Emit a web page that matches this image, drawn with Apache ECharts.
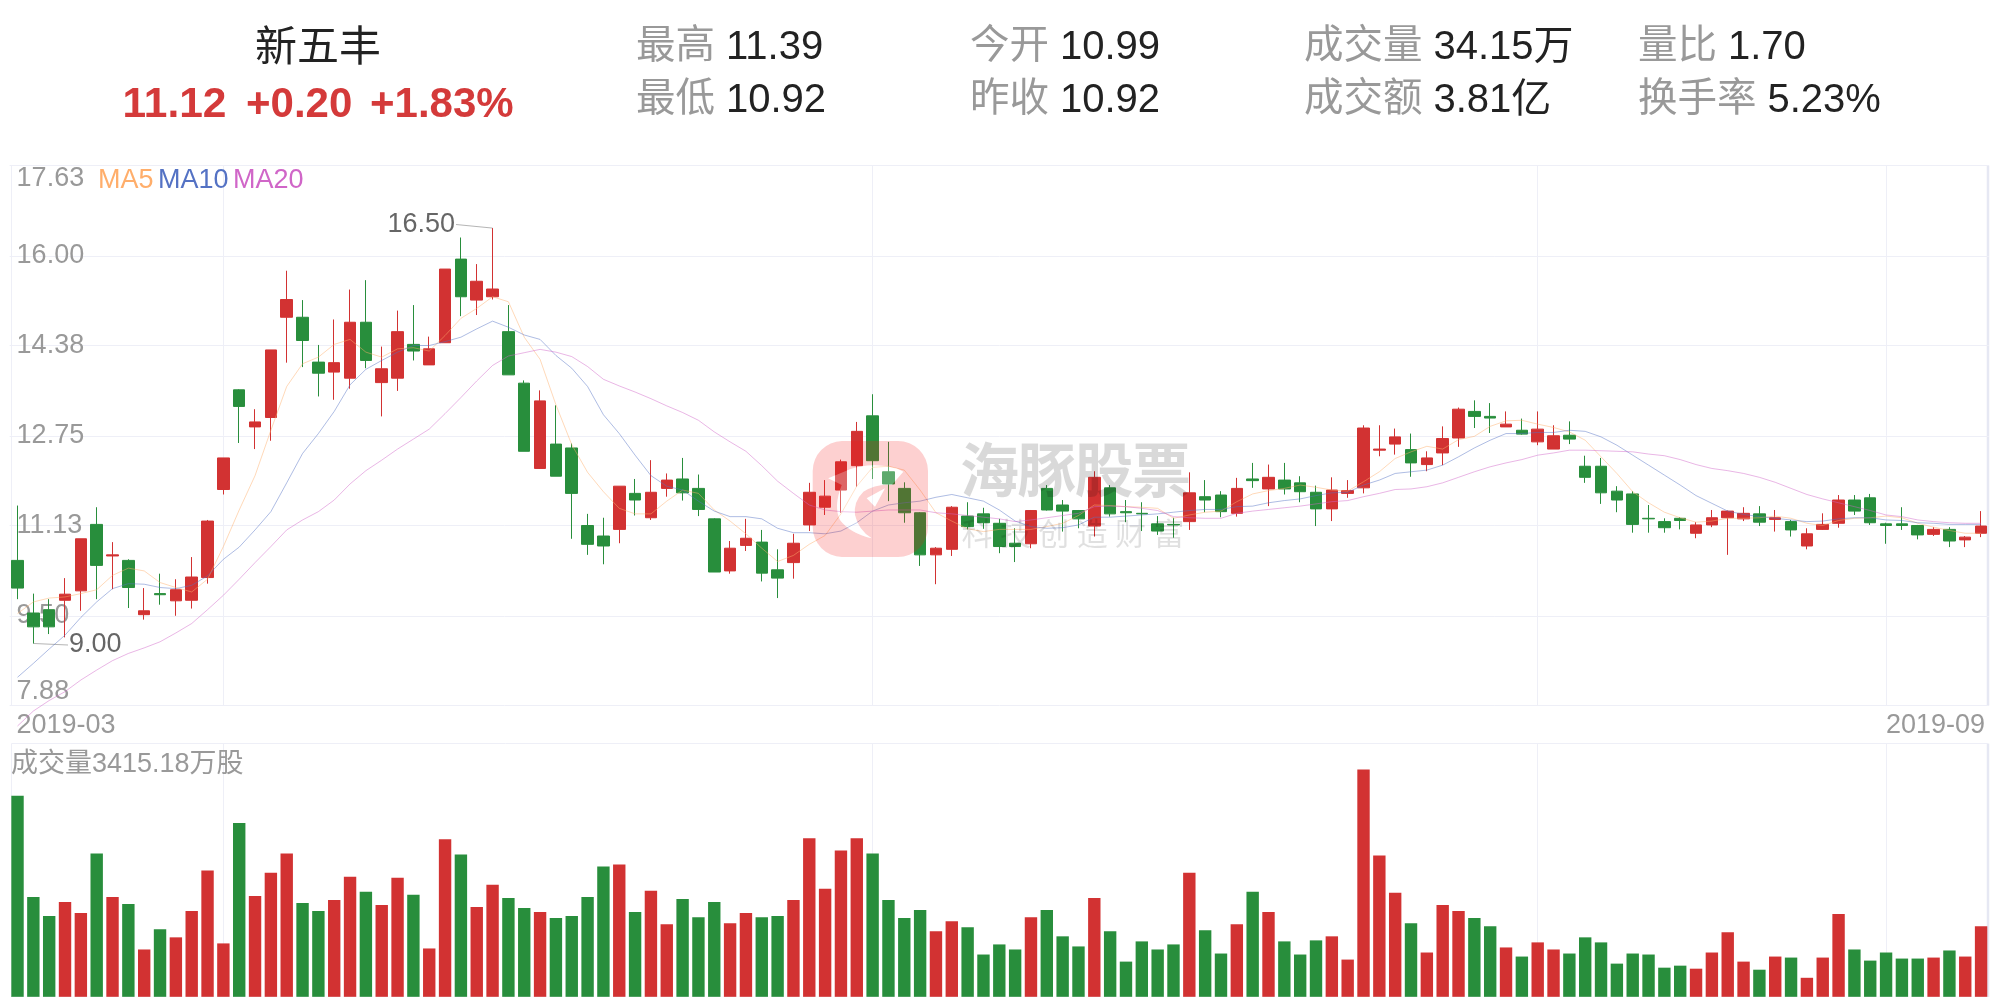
<!DOCTYPE html>
<html><head><meta charset="utf-8">
<style>html,body{margin:0;padding:0;background:#fff}#c{width:2001px;height:999px}</style>
<script src="https://cdn.jsdelivr.net/npm/echarts@6/dist/echarts.min.js"></script>
</head><body><div id="c"></div>
<script>
// [open, close, low, high]
const candles = [
[10.50,10.00,9.80,11.49],[9.55,9.30,9.00,9.90],[9.61,9.30,9.17,9.80],[9.78,9.89,9.11,10.18],[9.95,10.89,9.59,10.89],
[11.15,10.41,9.80,11.46],[10.58,10.60,9.98,10.83],[10.50,10.01,9.64,10.52],[9.52,9.59,9.43,10.00],[9.90,9.88,9.70,10.26],
[9.77,9.97,9.50,10.16],[9.78,10.20,9.63,10.56],[10.19,11.21,10.08,11.23],[11.78,12.35,11.69,12.35],[13.58,13.28,12.62,13.59],
[12.91,13.00,12.51,13.23],[13.08,14.30,12.66,14.30],[14.89,15.21,14.07,15.73],[14.89,14.47,13.99,15.20],[14.08,13.88,13.46,14.39],
[13.90,14.07,13.40,14.85],[13.79,14.80,13.60,15.39],[14.80,14.11,13.97,15.56],[13.71,13.96,13.10,14.36],[13.79,14.63,13.56,15.01],
[14.40,14.28,14.11,15.11],[14.03,14.32,14.03,14.54],[14.43,15.76,14.43,15.76],[15.94,15.26,14.91,16.33],[15.20,15.54,14.93,15.85],
[15.26,15.40,15.21,16.50],[14.63,13.85,13.85,15.11],[13.70,12.47,12.47,13.75],[12.16,13.38,12.15,13.57],[12.60,12.02,12.02,13.30],
[12.53,11.71,10.89,12.61],[11.13,10.79,10.60,11.34],[10.94,10.76,10.43,11.27],[11.06,11.84,10.81,11.84],[11.71,11.59,11.31,11.97],
[11.27,11.73,11.23,12.31],[11.80,11.95,11.65,12.07],[11.97,11.72,11.58,12.35],[11.80,11.42,11.30,12.05],[11.25,10.29,10.29,11.26],
[10.31,10.72,10.26,10.85],[10.77,10.90,10.67,11.25],[10.83,10.27,10.12,11.05],[10.33,10.18,9.82,10.70],[10.46,10.81,10.17,10.98],
[11.14,11.73,11.03,11.90],[11.46,11.66,11.32,11.95],[11.77,12.28,11.36,12.32],[12.21,12.83,11.83,13.00],[13.11,12.30,11.97,13.50],
[12.10,11.88,11.57,12.64],[11.80,11.36,11.18,11.91],[11.36,10.60,10.40,11.37],[10.60,10.72,10.07,10.74],[10.70,11.46,10.58,11.48],
[11.30,11.11,11.06,11.55],[11.34,11.18,11.07,11.45],[11.17,10.75,10.63,11.25],[10.81,10.75,10.47,11.08],[10.80,11.40,10.72,11.41],
[11.80,11.41,11.40,11.86],[11.50,11.39,11.02,11.59],[11.40,11.25,11.08,11.41],[11.12,12.00,10.93,12.11],[11.81,11.34,11.29,11.86],
[11.38,11.36,11.19,11.59],[11.35,11.34,11.03,11.55],[11.16,11.03,10.96,11.30],[11.15,11.14,10.91,11.27],[11.20,11.72,11.05,12.09],
[11.65,11.59,11.37,11.95],[11.68,11.38,11.28,11.75],[11.35,11.80,11.29,11.99],[11.97,11.94,11.81,12.26],[11.79,12.00,11.48,12.23],
[11.95,11.79,11.69,12.26],[11.90,11.74,11.55,12.02],[11.73,11.43,11.12,11.85],[11.43,11.77,11.21,12.00],[11.71,11.76,11.63,11.95],
[11.81,12.89,11.71,12.94],[12.49,12.51,12.38,12.94],[12.60,12.73,12.41,12.88],[12.50,12.26,12.01,12.79],[12.23,12.35,12.11,12.47],
[12.44,12.70,12.22,12.92],[12.71,13.23,12.55,13.26],[13.19,13.10,12.89,13.39],[13.10,13.07,12.80,13.34],[12.91,12.96,12.91,13.19],
[12.85,12.78,12.77,13.06],[12.64,12.87,12.58,13.19],[12.51,12.75,12.51,12.94],[12.76,12.69,12.60,13.01],[12.20,12.00,11.90,12.39],
[12.20,11.72,11.52,12.35],[11.75,11.59,11.37,11.84],[11.70,11.15,11.00,11.75],[11.26,11.25,11.00,11.50],[11.20,11.09,11.00,11.26],
[11.26,11.22,11.06,11.28],[10.99,11.14,10.90,11.19],[11.14,11.27,11.10,11.41],[11.27,11.39,10.60,11.40],[11.25,11.35,11.21,11.46],
[11.34,11.19,11.12,11.48],[11.24,11.27,11.02,11.41],[11.20,11.05,10.93,11.23],[10.76,10.98,10.70,11.08],[11.06,11.15,11.05,11.35],
[11.17,11.59,11.09,11.68],[11.59,11.39,11.32,11.68],[11.63,11.18,11.14,11.70],[11.16,11.13,10.80,11.18],[11.16,11.13,11.05,11.46],
[11.13,10.96,10.88,11.14],[10.97,11.06,10.94,11.10],[11.06,10.85,10.74,11.10],[10.87,10.92,10.74,10.94],[10.99,11.12,10.92,11.39]
];
const ma5 = [9.54,9.75,9.82,9.84,9.90,9.97,10.23,10.36,10.31,10.10,10.01,9.93,10.16,10.75,11.41,12.03,12.85,13.64,14.05,14.17,14.40,14.49,14.26,14.17,14.32,14.34,14.28,14.56,14.87,15.05,15.26,15.17,14.53,14.13,13.31,12.59,12.09,11.74,11.44,11.34,11.34,11.57,11.77,11.71,11.41,11.21,10.98,10.72,10.48,10.59,10.79,10.95,11.34,11.84,12.18,12.20,12.13,11.77,11.36,11.21,11.07,11.02,11.06,11.06,
11.06,11.11,11.17,11.31,11.50,11.49,11.47,11.46,11.44,11.26,11.32,11.37,11.39,11.56,11.70,11.76,11.80,11.86,11.82,11.77,11.75,11.92,12.10,12.34,12.46,12.56,12.51,12.68,12.74,12.92,13.02,13.03,12.96,12.90,12.82,12.67,12.37,12.07,11.74,11.54,11.37,11.27,11.19,11.21,11.26,11.26,11.27,11.30,11.26,11.17,11.13,11.22,11.26,11.27,11.30,11.27,11.17,11.10,11.04,10.99,10.99];
const ma10 = [8.39,8.64,8.90,9.15,9.47,9.75,9.99,10.08,10.07,10.01,9.99,10.05,10.22,10.52,10.74,11.05,11.38,11.90,12.43,12.79,13.19,13.67,13.95,14.11,14.26,14.38,14.38,14.45,14.53,14.68,14.82,14.71,14.57,14.49,14.20,13.97,13.64,13.13,12.79,12.40,12.03,11.84,11.77,11.57,11.39,11.29,11.29,11.25,11.08,11.00,11.00,10.98,11.03,11.18,11.39,11.50,11.54,11.57,11.64,11.69,11.63,11.57,11.41,11.21,
11.11,11.08,11.09,11.14,11.28,11.28,11.30,11.32,11.34,11.37,11.40,11.42,11.42,11.47,11.48,11.54,11.58,11.61,11.67,11.72,11.73,11.86,11.95,12.07,12.10,12.13,12.22,12.37,12.53,12.67,12.79,12.79,12.81,12.81,12.85,12.83,12.73,12.58,12.40,12.22,12.04,11.86,11.67,11.53,11.39,11.33,11.29,11.26,11.23,11.20,11.21,11.25,11.27,11.27,11.23,11.22,11.18,11.17,11.15,11.15,11.15];
const ma20 = [7.51,7.78,7.97,8.13,8.34,8.52,8.69,8.82,8.92,9.03,9.19,9.36,9.61,9.87,10.16,10.46,10.75,11.05,11.23,11.38,11.59,11.88,12.12,12.31,12.51,12.69,12.87,13.15,13.44,13.74,14.02,14.19,14.25,14.31,14.26,14.18,14.00,13.77,13.65,13.54,13.42,13.29,13.17,13.03,12.82,12.64,12.47,12.21,11.93,11.71,11.50,11.41,11.38,11.37,11.39,11.41,11.41,11.41,11.36,11.34,11.31,11.28,11.25,11.20,
11.23,11.27,11.31,11.35,11.47,11.48,11.47,11.44,11.40,11.29,11.27,11.26,11.26,11.35,11.39,11.42,11.45,11.48,11.52,11.56,11.58,11.65,11.71,11.78,11.79,11.83,11.90,12.00,12.10,12.19,12.26,12.32,12.40,12.44,12.49,12.49,12.48,12.47,12.46,12.42,12.39,12.32,12.23,12.16,12.12,12.07,12.00,11.91,11.80,11.69,11.61,11.54,11.47,11.40,11.32,11.29,11.23,11.20,11.18,11.17,11.17];
const volumes = [9701,4826,3900,4583,4046,6923,4826,4485,2291,3266,2876,4144,6094,2584,8385,4875,5996,6923,4534,4144,4680,5801,5070,4436,5753,4924,2340,7605,6874,4339,5411,4778,4290,4095,3803,3900,4826,6289,6386,4095,5119,3510,4729,3851,4583,3559,4046,3851,3900,4680,7654,5216,7069,7654,6923,4680,3803,4193,3169,3656,3364,2048,2535,2291,3851,4193,2925,2438,4778,3169,1706,2681,2291,2535,5996,3218,2096,3510,5070,4095,2681,2048,2730,2925,1804,10969,6825,5021,3559,2145,4436,4144,3803,3413,2389,1950,2633,2291,2096,2876,2633,1609,2096,2048,1414,1511,1365,2145,3120,1706,1316,1950,1901,926,1901,3998,2291,1755,2145,1853,1853,1901,2243,1950,3415.18];
const priceTicks = [7.88,9.50,11.13,12.75,14.38,16.00,17.63];
const monthTickIndex = [13,54,96,118];
const xTickLabels = {0:'2019-03',124:'2019-09'};
const highMark = {index:30, value:16.50, label:'16.50'};
const lowMark = {index:1, value:9.00, label:'9.00'};
const categories = candles.map((_,i)=>i);
const maNames = ['MA5','MA10','MA20'];
const maColors = ['#FFAE6B','#5472C4','#D066C8'];
const headerStats = [
 ['最高','11.39','最低','10.92',636,726],
 ['今开','10.99','昨收','10.92',970,1060],
 ['成交量','34.15万','成交额','3.81亿',1304,1433],
 ['量比','1.70','换手率','5.23%',1638,null]
];

const RED='#D23232', GREEN='#288E3C', GRID='#EEEFF7', FONT='"Liberation Sans","Noto Sans CJK SC",sans-serif';
const vline = monthTickIndex.map(i=>({xAxis:i}));
const gridLeft=9.6, gridRight=2001-1989;

function T(text,x,y,size,fill,opt){return {type:'text',z:50,silent:true,style:Object.assign({text,x,y,fill,font:(opt&&opt.weight?opt.weight+' ':'')+size+'px '+FONT,textVerticalAlign:'middle',textAlign:(opt&&opt.align)||'left'},opt&&opt.style)};}
const g=[];
// frame
[[165.5,705.5],[743.5,997]].forEach(([a,b])=>{
  g.push({type:'line',z:0,silent:true,shape:{x1:11.5,y1:a,x2:11.5,y2:b},style:{stroke:GRID,lineWidth:1}});
  g.push({type:'line',z:0,silent:true,shape:{x1:1988,y1:a,x2:1988,y2:b},style:{stroke:'#E6E8F3',lineWidth:2.5}});
  g.push({type:'line',z:0,silent:true,shape:{x1:11.5,y1:a,x2:1988,y2:a},style:{stroke:GRID,lineWidth:1}});
});
g.push({type:'line',z:40,silent:true,shape:{x1:11.5,y1:996.5,x2:1988,y2:996.5},style:{stroke:'rgba(235,237,245,0.2)',lineWidth:1}});
// header
g.push(T('新五丰',318,49.5,42,'#222',{align:'center'}));
g.push(T('11.12',122.5,105.5,42.5,'#D43A3A',{weight:'bold'}));
g.push(T('+0.20',246,105.5,42,'#D43A3A',{weight:'bold'}));
g.push(T('+1.83%',370,105.5,42,'#D43A3A',{weight:'bold'}));
headerStats.forEach(r=>{
  g.push(T(r[0],r[4],47.5,39.5,'#999'));
  g.push(T(r[2],r[4],100.5,39.5,'#999'));
  const w1=r[0].length*39.5+11, w2=r[2].length*39.5+11;
  g.push(T(r[1],r[4]+w1,47.5,40,'#222'));
  g.push(T(r[3],r[4]+w2,100.5,40,'#222'));
});
// legend
const legendX=[98,158,233];
maNames.forEach((n,i)=>g.push(T(n,legendX[i],180.5,27,maColors[i])));
g.push(T('成交量3415.18万股',11,764.5,27,'#999'));
// watermark above the series
['海','豚','股','票'].forEach((c,i)=>g.push(T(c,989.5+i*57.3,476,59,'rgba(0,0,0,0.15)',{weight:'bold',align:'center'})));
['科','技','创','造','财','富'].forEach((c,i)=>g.push(T(c,977+i*38.4,536,31,'rgba(0,0,0,0.12)',{align:'center'})));
const RECT='M842 441 H898 A30 30 0 0 1 928 471 V527 A30 30 0 0 1 898 557 H842 A30 30 0 0 1 812.7 527 V471 A30 30 0 0 1 842 441 Z ';
const pt=(x,y)=>(800+x/3).toFixed(1)+' '+(430+y/3).toFixed(1);
const DOLPHIN='M'+pt(85,145)+' L'+pt(125,165)+' Q'+pt(100,230)+' '+pt(120,270)+' Q'+pt(150,310)+' '+pt(215,325)+' Q'+pt(175,300)+' '+pt(165,255)+' Q'+pt(160,215)+' '+pt(190,185)+' Q'+pt(230,160)+' '+pt(275,165)+' L'+pt(310,125)+' L'+pt(290,115)+' Q'+pt(215,95)+' '+pt(150,118)+' Z ';
const TRI='M'+pt(200,205)+' L'+pt(225,230)+' L'+pt(255,175)+' Z ';
const CORNERS='M812.7 441 L812.7 441 Z M928 557 L928 557 Z';
const logoBox={x:812.7,y:441,width:115.3,height:116,layout:'cover'};

const maSeries = [ma5,ma10,ma20].map((d,i)=>({name:maNames[i],type:'line',data:d,xAxisIndex:0,yAxisIndex:0,showSymbol:false,symbol:'none',clip:false,z:3,silent:true,lineStyle:{color:maColors[i],width:0.8,opacity:0.6}}));
const leader={color:'#B5B5B5',width:1,type:'solid'};
const lblStyle=(t)=>({show:true,position:'end',formatter:t,color:'#666',fontSize:27,fontFamily:FONT,distance:1});

const option={
 animation:false,backgroundColor:'#fff',
 graphic:{elements:g},
 grid:[
  {left:gridLeft,right:gridRight,top:165.5,height:540},
  {left:gridLeft,right:gridRight,top:743.5,height:253.5}
 ],
 xAxis:[
  {type:'category',gridIndex:0,data:categories,boundaryGap:true,axisLine:{show:false},axisTick:{show:false},splitLine:{show:false},
   axisLabel:{show:true,interval:(i)=>xTickLabels[i]!==undefined,formatter:(v,i)=>xTickLabels[i]||'',color:'#999',fontSize:27,fontFamily:FONT,margin:7,padding:[0,-4,0,-1],alignMinLabel:'left',alignMaxLabel:'right',hideOverlap:false}},
  {type:'category',gridIndex:1,data:categories,boundaryGap:true,axisLine:{show:false},axisTick:{show:false},axisLabel:{show:false},splitLine:{show:false}}
 ],
 yAxis:[
  {type:'value',gridIndex:0,min:7.88,max:17.63,scale:true,position:'left',axisLine:{show:false},
   axisTick:{show:false,customValues:priceTicks},
   splitLine:{show:true,lineStyle:{color:GRID,width:1}},
   axisLabel:{show:true,inside:true,customValues:priceTicks,formatter:(v)=>Number(v).toFixed(2),color:'#999',fontSize:27,fontFamily:FONT,margin:7,verticalAlignMinLabel:'bottom',verticalAlignMaxLabel:'top'}},
  {type:'value',gridIndex:1,min:0,max:12222,axisLine:{show:false},axisTick:{show:false},axisLabel:{show:false},splitLine:{show:false}}
 ],
 series:[
  {type:'candlestick',name:'K',data:candles,xAxisIndex:0,yAxisIndex:0,barWidth:12,z:2,silent:true,
   itemStyle:{color:RED,color0:GREEN,borderColor:RED,borderColor0:GREEN,borderWidth:1},
   markLine:{silent:true,symbol:'none',z:1,animation:false,label:{show:false},lineStyle:{color:GRID,width:1,type:'solid'},
    data:vline.concat([
      [{coord:[highMark.index,highMark.value],lineStyle:leader,label:lblStyle(highMark.label)},{x:456,y:224.5}],
      [{coord:[lowMark.index,lowMark.value],lineStyle:leader,label:lblStyle(lowMark.label)},{x:68,y:645}]
    ])}},
  ...maSeries,
  {type:'bar',name:'成交量',xAxisIndex:1,yAxisIndex:1,barWidth:12.4,z:2,silent:true,
   data:volumes.map((v,i)=>({value:v,itemStyle:{color:candles[i][1]>=candles[i][0]?RED:GREEN}})),
   markLine:{silent:true,symbol:'none',z:1,animation:false,label:{show:false},lineStyle:{color:GRID,width:1,type:'solid'},data:vline}},
  {type:'custom',name:'logo',coordinateSystem:'none',z:60,silent:true,data:[0],clip:false,
   renderItem:()=>({type:'group',children:[
     {type:'path',shape:Object.assign({pathData:RECT+DOLPHIN+TRI},logoBox),style:{fill:'rgba(245,20,20,0.2)'}},
     {type:'path',shape:Object.assign({pathData:DOLPHIN+TRI+CORNERS},logoBox),style:{fill:'rgba(255,255,255,0.25)'}}
   ]})}
 ]
};
echarts.init(document.getElementById('c'),null,{renderer:'canvas'}).setOption(option);
</script></body></html>
